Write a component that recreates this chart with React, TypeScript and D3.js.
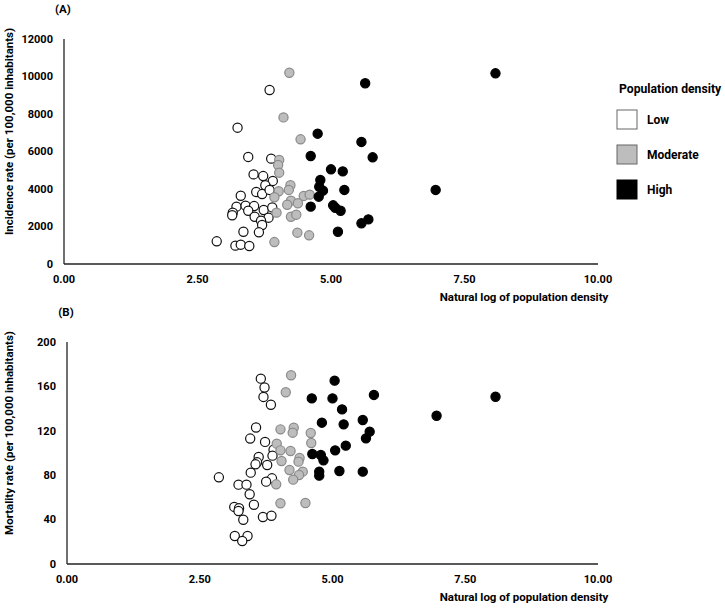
import React from "react";
import * as d3 from "d3";

const incidenceLow: [number, number][] = [
  [3.85, 9280], [3.25, 7270], [3.45, 5710], [3.88, 5620], [3.55, 4780], [3.73, 4690],
  [3.91, 4430], [3.77, 4200], [3.6, 3840], [3.71, 3730], [3.85, 3950], [3.31, 3640],
  [3.23, 3060], [3.4, 3110], [3.56, 3090], [3.16, 2740], [3.15, 2600], [3.45, 2840],
  [3.74, 2880], [3.9, 3020], [3.57, 2520], [3.83, 2470], [3.69, 2310], [3.71, 2080],
  [3.36, 1720], [3.65, 1690], [2.86, 1210], [3.21, 980], [3.31, 1030], [3.47, 960],
];
const incidenceModerate: [number, number][] = [
  [4.22, 10200], [4.11, 7820], [4.43, 6650], [4.03, 5550], [4.01, 5280], [4.03, 4870],
  [4.24, 4200], [4.02, 3880], [4.21, 3950], [3.94, 3560], [4.49, 3630], [4.6, 3700],
  [4.25, 3380], [4.18, 3160], [4.38, 3240], [3.98, 2740], [4.25, 2520], [4.35, 2630],
  [4.37, 1670], [4.59, 1530], [3.94, 1170],
];
const incidenceHigh: [number, number][] = [
  [5.64, 9640], [8.08, 10170], [6.96, 3950], [4.75, 6950], [5.57, 6510], [4.62, 5760],
  [5.78, 5690], [5.0, 5050], [5.22, 4940], [4.8, 4480], [4.78, 4120], [4.85, 3910],
  [5.25, 3950], [4.77, 3590], [4.62, 3060], [5.04, 3130], [5.08, 3000], [5.18, 2840],
  [5.7, 2380], [5.57, 2170], [5.13, 1720],
];
const mortalityLow: [number, number][] = [
  [3.65, 167], [3.72, 159], [3.7, 150.5], [3.84, 143.5], [3.56, 123], [3.45, 113],
  [3.73, 110], [3.89, 103], [3.87, 97.6], [3.61, 96.4], [3.58, 91.6], [3.55, 89.8],
  [3.77, 89.2], [3.46, 82.3], [3.86, 77.2], [3.75, 74.2], [2.86, 78.1], [3.23, 71.5],
  [3.38, 71.5], [3.44, 62.8], [3.52, 53.4], [3.15, 51.4], [3.24, 50.2], [3.23, 47.7],
  [3.32, 39.9], [3.69, 42.3], [3.85, 43.5], [3.16, 25.2], [3.4, 25.2], [3.3, 20.7],
];
const mortalityModerate: [number, number][] = [
  [4.22, 170], [4.12, 154.7], [4.02, 121.3], [4.27, 122.8], [4.25, 118.3], [4.59, 118],
  [4.6, 109], [3.95, 108.4], [4.02, 102.4], [4.21, 101.8], [4.38, 95.5], [4.36, 92.2],
  [4.04, 92.8], [4.19, 84.7], [4.44, 83.2], [4.37, 80.2], [4.26, 76], [3.94, 71.8],
  [4.02, 54.7], [4.49, 55],
];
const mortalityHigh: [number, number][] = [
  [5.04, 165.2], [4.61, 149.2], [5.0, 149.2], [5.78, 152.3], [5.18, 139.3], [4.8, 127.3],
  [5.21, 125.8], [5.57, 129.7], [5.7, 119.2], [5.63, 113.2], [5.25, 106.6], [5.05, 102.4],
  [4.62, 99.1], [4.78, 98.2], [4.83, 93.4], [4.75, 83.2], [4.75, 79.6], [5.13, 83.8],
  [5.57, 83.2], [8.07, 150.7], [6.96, 133.6],
];

const xTicks = [0, 2.5, 5, 7.5, 10];
const incidenceTicks = [0, 2000, 4000, 6000, 8000, 10000, 12000];
const mortalityTicks = [0, 40, 80, 120, 160, 200];
const legendLabels = ["Low", "Moderate", "High"];

const FONT = "Roboto, 'DejaVu Sans', sans-serif";
const styles = [
  { fill: "#ffffff", stroke: "#111111" },
  { fill: "#bdbdbd", stroke: "#8a8a8a" },
  { fill: "#000000", stroke: "#000000" },
];

type PanelProps = {
  tag: string;
  yLabel: string;
  series: [number, number][][];
  yMax: number;
  yTicks: number[];
  left: number;
  top: number;
  bottom: number;
};

function Panel({ tag, yLabel, series, yMax, yTicks, left, top, bottom }: PanelProps) {
  const x = d3.scaleLinear().domain([0, 10]).range([left, 598]);
  const y = d3.scaleLinear().domain([0, yMax]).range([bottom, top]);
  const fmt = d3.format(".2f");
  return (
    <g>
      <text x={left - 1} y={top - 30} dy="0.35em" fontSize={11.5} fontWeight={700} textAnchor="middle" fontFamily={FONT}>
        {tag}
      </text>
      <text
        transform={`translate(13,${(top + bottom) / 2 - 20}) rotate(-90)`}
        fontSize={11.5}
        fontWeight={700}
        textAnchor="middle"
        fontFamily={FONT}
      >
        {yLabel}
      </text>
      {yTicks.map((t) => (
        <text key={t} x={left - 11} y={y(t)} dy="0.35em" fontSize={11} fontWeight={700} textAnchor="end" fontFamily={FONT}>
          {t}
        </text>
      ))}
      {xTicks.map((t) => (
        <text key={t} x={x(t)} y={bottom + 15} dy="0.35em" fontSize={11} fontWeight={700} textAnchor="middle" fontFamily={FONT}>
          {fmt(t)}
        </text>
      ))}
      <text x={524} y={bottom + 33} dy="0.35em" fontSize={11.5} fontWeight={700} textAnchor="middle" fontFamily={FONT}>
        Natural log of population density
      </text>
      <line x1={left} x2={left} y1={y(yMax)} y2={y(0)} stroke="#222" strokeWidth={1.3} />
      <line x1={left} x2={598} y1={y(0)} y2={y(0)} stroke="#222" strokeWidth={1.3} />
      {series.map((pts, i) =>
        pts.map((p, j) => (
          <circle
            key={`${i}-${j}`}
            cx={x(p[0])}
            cy={y(p[1])}
            r={4.6}
            fill={styles[i].fill}
            stroke={styles[i].stroke}
            strokeWidth={1.2}
          />
        ))
      )}
    </g>
  );
}

export default function App() {
  return (
    <div style={{ position: "absolute", left: 0, top: 0 }}>
      <svg width={725} height={613} style={{ display: "block", background: "#fff" }}>
        <Panel
          tag="(A)"
          yLabel="Incidence rate (per 100,000 inhabitants)"
          series={[incidenceLow, incidenceModerate, incidenceHigh]}
          yMax={12000}
          yTicks={incidenceTicks}
          left={64}
          top={39}
          bottom={264}
        />
        <Panel
          tag="(B)"
          yLabel="Mortality rate (per 100,000 inhabitants)"
          series={[mortalityLow, mortalityModerate, mortalityHigh]}
          yMax={200}
          yTicks={mortalityTicks}
          left={67}
          top={342}
          bottom={564}
        />
        <text x={619} y={89} dy="0.35em" fontSize={12.2} fontWeight={700} fontFamily={FONT}>
          Population density
        </text>
        {legendLabels.map((l, i) => (
          <g key={l}>
            <rect
              x={617}
              y={110 + i * 35}
              width={20}
              height={19}
              fill={styles[i].fill}
              stroke={i === 2 ? "#000" : "#666"}
              strokeWidth={1}
            />
            <text x={647} y={120 + i * 35} dy="0.35em" fontSize={12} fontWeight={700} fontFamily={FONT}>
              {l}
            </text>
          </g>
        ))}
      </svg>
    </div>
  );
}
